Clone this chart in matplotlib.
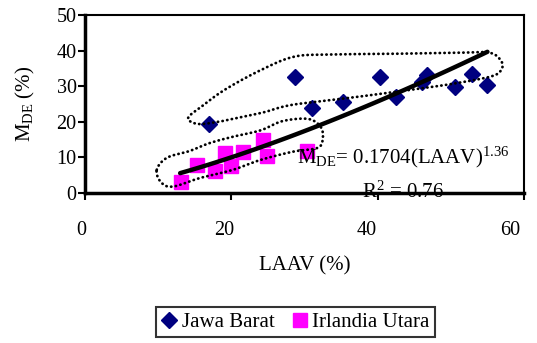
import numpy as np
import matplotlib
matplotlib.use("Agg")
import matplotlib.pyplot as plt
from matplotlib.transforms import ScaledTranslation

plt.rcParams['font.family'] = ['Liberation Serif', 'DejaVu Serif']
plt.rcParams['mathtext.fontset'] = 'custom'
plt.rcParams['mathtext.rm'] = 'Liberation Serif'
plt.rcParams['mathtext.it'] = 'Liberation Serif:italic'

# data
jawa_x = [17.0, 28.7, 31.0, 35.3, 40.3, 42.5, 46.1, 46.7, 50.6, 52.9, 54.9]
jawa_y = [19.3, 32.7, 23.9, 25.6, 32.7, 27.1, 31.3, 33.2, 29.9, 33.5, 30.4]
irl_x = [13.1, 15.3, 17.8, 19.1, 19.9, 21.6, 24.3, 24.9, 30.4]
irl_y = [3.1, 7.9, 6.3, 11.2, 7.5, 11.5, 14.9, 10.4, 11.8]

coef, expo = 0.1704, 1.36
fit_range = (13.0, 55.0)
xticks = [0, 20, 40, 60]
yticks = [0, 10, 20, 30, 40, 50]

# hand-drawn dotted loops around each group
loop_up = [(14.1, 21.1), (16.0, 24.4), (19.1, 29.0), (23.9, 34.4), (28.4, 38.2),
           (33.0, 38.9), (42.0, 39.1), (51.0, 39.4), (55.3, 39.4), (56.9, 37.0),
           (56.9, 34.6), (55.6, 32.8), (51.2, 31.0), (46.7, 29.6), (37.2, 27.0),
           (28.4, 24.8), (24.5, 22.7), (21.5, 21.4), (18.2, 20.0), (15.4, 19.4)]
loop_low = [(9.8, 6.5), (11.2, 9.9), (14.3, 11.8), (17.0, 14.0), (20.2, 15.8),
            (24.0, 17.6), (27.0, 20.2), (30.5, 20.8), (32.2, 18.6), (32.5, 15.3),
            (31.8, 12.7), (28.4, 11.6), (24.0, 9.3), (20.2, 6.5), (15.7, 4.2),
            (12.0, 1.8), (10.4, 3.0)]


def smooth_loop(pts, n=20):
    # closed catmull-rom curve through the points
    p = np.array(pts)
    m = len(p)
    out = []
    for i in range(m):
        p0, p1, p2, p3 = p[(i - 1) % m], p[i], p[(i + 1) % m], p[(i + 2) % m]
        t = np.linspace(0, 1, n, endpoint=False)[:, None]
        seg = 0.5 * ((2 * p1) + (-p0 + p2) * t + (2 * p0 - 5 * p1 + 4 * p2 - p3) * t ** 2
                     + (-p0 + 3 * p1 - 3 * p2 + p3) * t ** 3)
        out.append(seg)
    out = np.vstack(out)
    return np.vstack([out, out[:1]])


fig = plt.figure(figsize=(5.37, 3.43), dpi=100)
ax = fig.add_axes([0.1583, 0.4373, 0.8175, 0.519])

ax.plot(jawa_x, jawa_y, 'D', color='#000080', ms=8, mec='#000080', label='Jawa Barat', zorder=3)
ax.plot(irl_x, irl_y, 's', color='#FF00FF', ms=10.5, mec='#FF00FF', label='Irlandia Utara', zorder=3)

xf = np.linspace(fit_range[0], fit_range[1], 100)
ax.plot(xf, coef * xf ** expo, color='black', lw=3.2, solid_capstyle='round', zorder=4)

for lp in (loop_up, loop_low):
    c = smooth_loop(lp)
    ax.plot(c[:, 0], c[:, 1], color='black', lw=2, linestyle=(0, (0.1, 1.6)),
            dash_capstyle='round', zorder=5)

ax.text(29.0, 8.4, r'M$_{\rm DE}$= 0.1704(LAAV)$^{1.36}$', fontsize=15,
        ha='left', va='baseline', zorder=6)
ax.text(37.9, -1.4, r'R$^{2}$ = 0.76', fontsize=15, ha='left', va='baseline',
        clip_on=False, zorder=6)

ax.set_xlim(0, 60)
ax.set_ylim(0, 50)
ax.set_xticks(xticks)
ax.set_yticks(yticks)
ax.tick_params(axis='x', direction='out', length=5, width=1.5, pad=15, labelsize=14.5)
ax.tick_params(axis='y', direction='out', length=5, width=1.5, pad=1, labelsize=14.5)
for s in ('left', 'bottom'):
    ax.spines[s].set_linewidth(2.5)
for s in ('top', 'right'):
    ax.spines[s].set_linewidth(1.5)

# excel-style drift of the x tick labels
for lbl, v in zip(ax.get_xticklabels(), xticks):
    dx = (4 + v * 0.167) / 100
    lbl.set_transform(lbl.get_transform() + ScaledTranslation(-dx, 0, fig.dpi_scale_trans))

ax.set_xlabel('LAAV (%)', fontsize=15, labelpad=12)
ax.set_ylabel(r'M$_{\rm DE}$ (%)', fontsize=15, labelpad=14)

leg = fig.legend(loc='center', bbox_to_anchor=(0.55, 0.061), ncol=2, fontsize=15,
                 frameon=True, fancybox=False, edgecolor='black', handlelength=0.8,
                 handletextpad=0.2, columnspacing=0.8, borderpad=0.25)
leg.get_frame().set_linewidth(1.5)

fig.savefig('out.png', dpi=100)
